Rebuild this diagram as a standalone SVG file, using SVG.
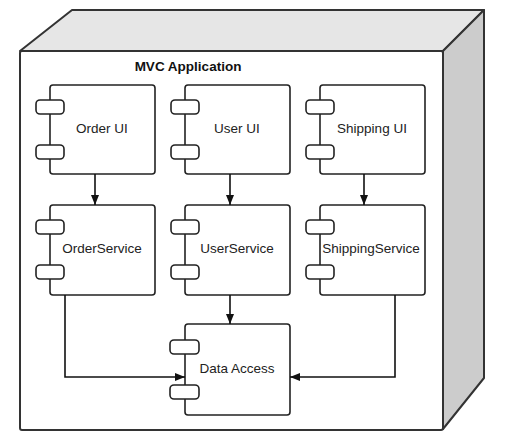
<svg xmlns="http://www.w3.org/2000/svg" width="506" height="439" viewBox="0 0 506 439">
<style>
  .face{stroke:#333;stroke-width:2;stroke-linejoin:round}
  .box{fill:#fff;stroke:#222;stroke-width:1.6}
  .port{fill:#fff;stroke:#222;stroke-width:1.6}
  .lbl{font-family:"Liberation Sans",Arial,sans-serif;font-size:13.5px;fill:#222;text-anchor:middle}
  .title{font-family:"Liberation Sans",Arial,sans-serif;font-size:13.5px;font-weight:bold;fill:#111;text-anchor:middle}
  .conn{fill:none;stroke:#111;stroke-width:1.6}
</style>
<defs>
  <marker id="arr" viewBox="0 0 10 8" refX="10" refY="4" markerWidth="10" markerHeight="8" markerUnits="userSpaceOnUse" orient="auto">
    <path d="M0,0 L10,4 L0,8 Z" fill="#111"/>
  </marker>
</defs>
<rect width="506" height="439" fill="#fff"/>
<g id="node-mvc">
  <path class="face" d="M20,51 L72,10 L484,10 L443,51 Z" fill="#e6e6e6"/>
  <path class="face" d="M443,51 L484,10 L484,378 L443,429 Z" fill="#cccccc"/>
  <rect class="face" x="20" y="51" width="423" height="379" rx="2" fill="#fff"/>
  <text class="title" x="188" y="71">MVC Application</text>
</g>
<g id="node-orderui">
  <rect class="box" x="50" y="85" width="105" height="89" rx="3"/>
  <rect class="port" x="36" y="100" width="28" height="14" rx="4"/>
  <rect class="port" x="36" y="145" width="28" height="14" rx="4"/>
  <text class="lbl" x="102" y="133">Order UI</text>
</g>
<g id="node-userui">
  <rect class="box" x="185" y="85" width="105" height="89" rx="3"/>
  <rect class="port" x="171" y="100" width="28" height="14" rx="4"/>
  <rect class="port" x="171" y="145" width="28" height="14" rx="4"/>
  <text class="lbl" x="237" y="133">User UI</text>
</g>
<g id="node-shippingui">
  <rect class="box" x="320" y="85" width="105" height="89" rx="3"/>
  <rect class="port" x="306" y="100" width="28" height="14" rx="4"/>
  <rect class="port" x="306" y="145" width="28" height="14" rx="4"/>
  <text class="lbl" x="372" y="133">Shipping UI</text>
</g>
<g id="node-orderservice">
  <rect class="box" x="50" y="205" width="105" height="90" rx="3"/>
  <rect class="port" x="36" y="220" width="28" height="14" rx="4"/>
  <rect class="port" x="36" y="265" width="28" height="14" rx="4"/>
  <text class="lbl" x="102" y="253">OrderService</text>
</g>
<g id="node-userservice">
  <rect class="box" x="185" y="205" width="105" height="90" rx="3"/>
  <rect class="port" x="171" y="220" width="28" height="14" rx="4"/>
  <rect class="port" x="171" y="265" width="28" height="14" rx="4"/>
  <text class="lbl" x="237" y="253">UserService</text>
</g>
<g id="node-shippingservice">
  <rect class="box" x="320" y="205" width="105" height="90" rx="3"/>
  <rect class="port" x="306" y="220" width="28" height="14" rx="4"/>
  <rect class="port" x="306" y="265" width="28" height="14" rx="4"/>
  <text class="lbl" x="371" y="253">ShippingService</text>
</g>
<g id="node-dataaccess">
  <rect class="box" x="185" y="324" width="105" height="91" rx="3"/>
  <rect class="port" x="170" y="340" width="29" height="14" rx="4"/>
  <rect class="port" x="170" y="385" width="29" height="14" rx="4"/>
  <text class="lbl" x="237" y="373">Data Access</text>
</g>
<g id="connectors">
  <path class="conn" d="M95,174 L95,205" marker-end="url(#arr)"/>
  <path class="conn" d="M230,174 L230,205" marker-end="url(#arr)"/>
  <path class="conn" d="M364,174 L364,205" marker-end="url(#arr)"/>
  <path class="conn" d="M230,295 L230,324" marker-end="url(#arr)"/>
  <path class="conn" d="M65,295 L65,377 L185,377" marker-end="url(#arr)"/>
  <path class="conn" d="M395,295 L395,377 L290,377" marker-end="url(#arr)"/>
</g>
</svg>
